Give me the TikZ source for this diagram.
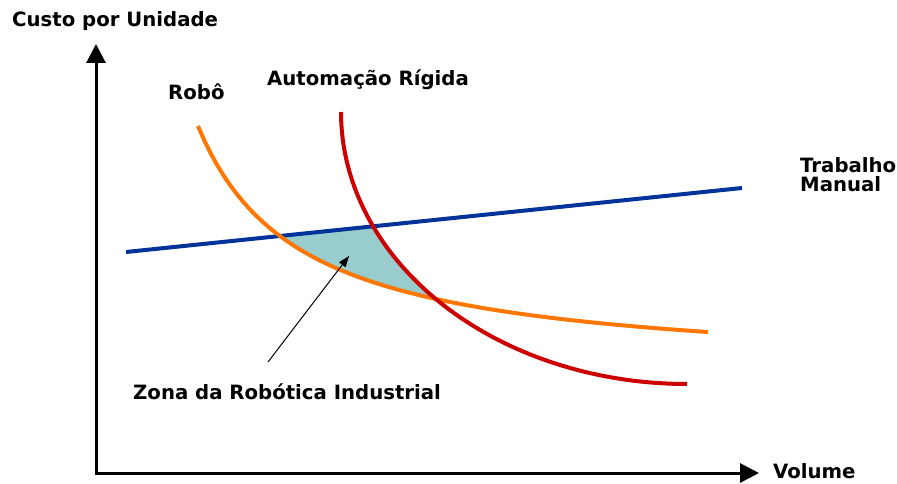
\documentclass[tikz,border=0pt]{standalone}
\usepackage{fontspec}
\setmainfont{DejaVu Sans}
\usetikzlibrary{positioning, arrows.meta}
\definecolor{manualcor}{RGB}{0,51,153}
\definecolor{robocor}{RGB}{255,119,0}
\definecolor{rigidacor}{RGB}{204,0,0}
\definecolor{zonacor}{RGB}{153,204,204}

\begin{document}
\begin{tikzpicture}[x=1pt, y=-1pt,
  lbl/.style={font=\bfseries\fontsize{19.7}{22}\selectfont, inner sep=0, anchor=base west},
  eixo/.style={line width=3pt, {Triangle[length=19pt,width=19pt]}-{Triangle[length=19pt,width=19pt]}},
  curva/.style={line width=4pt}]
\useasboundingbox (0,0) rectangle (897,484);
% eixos
\coordinate (o) at (96,473);
\coordinate (ytop) at (96,44);
\coordinate (xfim) at (759,473);
\draw[eixo] (ytop) -- (o) -- (xfim);
\node[lbl] (custo) at (12,27) {Custo por Unidade};
\node[lbl] (volume) at (773,478) {Volume};
% zona
\fill[zonacor] (280,236) -- (373,226.3)
  -- plot[domain=24.8:43.7, samples=20] ({687-346*cos(\x)}, {112+272*sin(\x)})
  -- plot[domain=437:280, samples=40] (\x, {373.3-252.72/((\x-95.8)/100)}) -- cycle;
% curvas
\draw[curva, manualcor] (126,252) -- (742,188);
\draw[curva, robocor] plot[domain=198:708, samples=80] (\x, {373.3-252.72/((\x-95.8)/100)});
\draw[curva, rigidacor] plot[domain=0:90, samples=80] ({687-346*cos(\x)}, {112+272*sin(\x)});
\node[lbl] (robo) at (168,100) {Robô};
\node[lbl] (rigida) at (267,86) {Automação Rígida};
\node[lbl] (trab) at (800,172) {Trabalho};
\node[lbl] (manual) at ([yshift=-19pt]trab.base west) {Manual};
\node[lbl] (zona) at (133,399) {Zona da Robótica Industrial};
\coordinate (pe) at (268,362);
\coordinate (seta) at (349,256);
\draw[line width=1pt, -{Triangle[length=11pt,width=8pt]}] (pe) -- (seta);
\end{tikzpicture}
\end{document}
